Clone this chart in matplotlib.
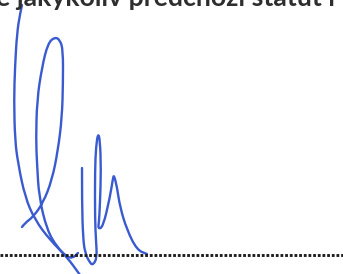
import matplotlib
matplotlib.use("Agg")
import matplotlib.pyplot as plt
from matplotlib.path import Path
from matplotlib.patches import PathPatch

# cropped line of text above the signature
header_text = "e jakýkoliv předchozí statut r"

# signature strokes, pixel positions (x right, y down)
stroke_left_x = [22, 20, 17, 15, 14, 15, 18, 25, 35, 50, 67, 80]
stroke_left_y = [5, 14, 33, 67, 100, 140, 163, 197, 220, 240, 257, 275]

stroke_loop_x = [22, 25, 33, 43, 52, 58, 62, 63, 63, 60, 55, 48, 42, 37, 36, 37, 39, 47, 57, 67, 73, 78]
stroke_loop_y = [227, 223, 217, 203, 180, 150, 117, 83, 50, 40, 37, 43, 67, 100, 140, 163, 197, 230, 247, 257, 258, 253]

stroke_hump_x = [82, 82, 83, 85, 90, 93, 97, 96, 95, 95, 96, 98, 100, 101, 100, 99, 98, 103, 110, 113, 114, 117, 120, 127, 137, 147]
stroke_hump_y = [168, 203, 237, 253, 263, 265, 258, 240, 220, 170, 147, 133, 140, 170, 203, 222, 229, 227, 197, 178, 175, 187, 207, 230, 250, 254]

ink = "#3a5ad0"
W, H = 343, 274

fig = plt.figure(figsize=(W / 100, H / 100), dpi=100)
ax = fig.add_axes([0, 0, 1, 1])
ax.set_xlim(0, W)
ax.set_ylim(H, 0)
ax.axis("off")


def smooth_path(xs, ys):
    # quadratic curve through midpoints, keeps the pen stroke round
    pts = list(zip(xs, ys))
    verts = [pts[0]]
    codes = [Path.MOVETO]
    for i in range(1, len(pts) - 1):
        mid = ((pts[i][0] + pts[i + 1][0]) / 2, (pts[i][1] + pts[i + 1][1]) / 2)
        verts += [pts[i], mid]
        codes += [Path.CURVE3, Path.CURVE3]
    verts.append(pts[-1])
    codes.append(Path.LINETO)
    return Path(verts, codes)


for xs, ys in [(stroke_left_x, stroke_left_y),
               (stroke_loop_x, stroke_loop_y),
               (stroke_hump_x, stroke_hump_y)]:
    ax.add_patch(PathPatch(smooth_path(xs, ys), fill=False, edgecolor=ink,
                           lw=1.7, capstyle="round", joinstyle="round"))

ax.text(-4, 6, header_text, fontsize=19.2, family="Lato", weight="bold",
        color="#2e2e2e", va="baseline", ha="left")

# dotted signature line
ax.plot([0, W], [255, 255], color="#1e1e1e", lw=2.1,
        linestyle=(0, (0.95, 0.65)), solid_capstyle="butt", dash_capstyle="butt")

fig.savefig("out.png", dpi=100)
